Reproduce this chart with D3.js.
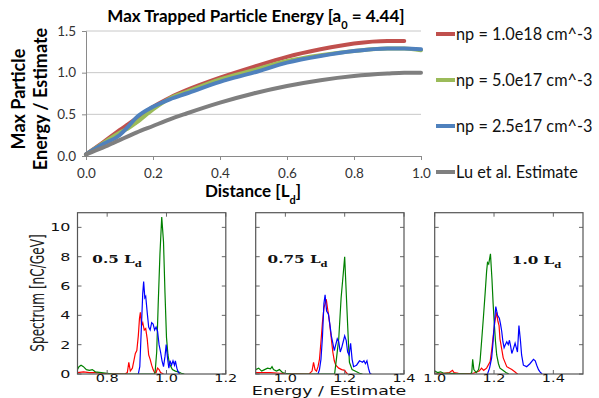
<!DOCTYPE html>
<html>
<head>
<meta charset="utf-8">
<script src="https://cdn.jsdelivr.net/npm/d3@7"></script>
<style>
  body { margin: 0; background: #fff; }
  svg { display: block; }
</style>
</head>
<body>
<div id="chart"></div>
<script>
"use strict";

// ---- top chart: max trapped particle energy vs distance ----
var distance   = [0, 0.05, 0.1, 0.125, 0.15, 0.2, 0.25, 0.3, 0.4, 0.5, 0.6, 0.7, 0.8, 0.9, 0.95, 1.0];
var np1e18     = [0.02, 0.16, 0.31, 0.38, 0.45, 0.59, 0.70, 0.79, 0.94, 1.07, 1.19, 1.28, 1.35, 1.38, 1.38, null];
var np5e17     = [0.02, 0.15, 0.28, 0.33, 0.40, 0.56, 0.69, 0.77, 0.92, 1.03, 1.14, 1.21, 1.26, 1.29, 1.29, 1.27];
var np25e17    = [0.02, 0.14, 0.25, 0.35, 0.46, 0.59, 0.68, 0.75, 0.89, 1.00, 1.12, 1.20, 1.26, 1.29, 1.29, 1.28];
var luEstimate = [0.02, 0.10, 0.19, 0.235, 0.28, 0.36, 0.44, 0.51, 0.64, 0.75, 0.84, 0.91, 0.96, 0.99, 1.00, 1.00];
var seriesNames = ["np = 1.0e18 cm^-3", "np = 5.0e17 cm^-3", "np = 2.5e17 cm^-3", "Lu et al. Estimate"];
var seriesColors = ["#c0504d", "#9bbb59", "#4f81bd", "#7f7f7f"];
var distTicks = [0, 0.2, 0.4, 0.6, 0.8, 1.0];
var energyTicks = [0, 0.5, 1.0, 1.5];

// ---- bottom panels: spectra [energy/estimate, nC/GeV] ----
var panelNames = ["0.5", "0.75", "1.0"];
var panelDomains = [[0.7, 1.2], [0.9, 1.4], [1.0, 1.5]];
var panelTicks = [[0.8, 1.0, 1.2], [1.0, 1.2, 1.4], [1.0, 1.2, 1.4]];
var spectrumTicks = [0, 2, 4, 6, 8, 10];

var p1Red = [[0.70,0.1],[0.72,0.15],[0.74,0.1],[0.76,0.1],[0.78,0.05],[0.8,0.02],[0.86,0],[0.868,0.1],[0.873,0.8],[0.878,0.2],[0.885,0.4],[0.89,0.9],[0.895,1.4],[0.9,1.6],[0.905,2.6],[0.909,3.8],[0.912,4.2],[0.916,3.3],[0.92,3.5],[0.925,3.0],[0.93,3.1],[0.935,2.4],[0.94,1.3],[0.945,1.0],[0.95,0.6],[0.955,0.3],[0.96,0.1],[0.965,0.1],[0.97,0.4],[0.975,0.3],[0.98,0.1],[0.99,0]];
var p1Green = [[0.70,0.3],[0.705,0.5],[0.712,0.6],[0.72,0.5],[0.73,0.3],[0.74,0.25],[0.75,0.3],[0.76,0.15],[0.78,0.1],[0.8,0.05],[0.82,0],[0.96,0],[0.962,0.2],[0.967,1.5],[0.972,4.7],[0.978,8.2],[0.984,10.7],[0.99,9.0],[0.995,5.5],[1.0,2.5],[1.005,1.3],[1.01,0.7],[1.02,0.3],[1.03,0.2],[1.04,0.15],[1.05,0.05],[1.06,0]];
var p1Blue = [[0.905,0],[0.91,0.5],[0.915,3.0],[0.92,5.5],[0.923,6.3],[0.927,5.2],[0.93,5.3],[0.935,4.2],[0.94,3.2],[0.945,3.0],[0.95,3.5],[0.955,3.4],[0.96,3.0],[0.965,3.2],[0.97,2.9],[0.975,2.0],[0.98,1.5],[0.985,0.9],[0.99,0.5],[0.995,1.2],[0.999,2.0],[1.004,1.0],[1.008,0.4],[1.012,0.9],[1.017,0.6],[1.022,0.9],[1.027,0.6],[1.03,0.9],[1.035,0.4],[1.04,0.1],[1.045,0]];

var p2Red = [[0.9,0.1],[0.95,0.1],[0.98,0.05],[1.0,0.02],[1.08,0],[1.09,0.2],[1.095,0.8],[1.1,0.3],[1.105,0.2],[1.11,0.5],[1.115,1.0],[1.12,2.2],[1.125,3.5],[1.13,4.5],[1.138,5.1],[1.142,4.5],[1.146,4.0],[1.15,3.3],[1.155,2.4],[1.16,1.5],[1.165,0.9],[1.17,0.6],[1.18,0.4],[1.19,0.3],[1.2,0.25],[1.205,0.1],[1.21,0]];
var p2Green = [[0.9,0.3],[0.91,0.4],[0.92,0.2],[0.93,0.3],[0.94,0.4],[0.95,0.35],[0.955,0.5],[0.96,0.3],[0.97,0.2],[0.98,0.3],[0.99,0.1],[1.0,0.05],[1.02,0],[1.166,0],[1.172,1.0],[1.18,2.4],[1.188,5.2],[1.195,6.8],[1.2,8.0],[1.207,4.7],[1.213,2.0],[1.216,0.8],[1.225,0.3],[1.24,0.15],[1.25,0.05],[1.26,0]];
var p2Blue = [[1.11,0],[1.115,0.3],[1.12,1.0],[1.125,2.5],[1.13,4.8],[1.134,5.4],[1.139,4.3],[1.145,4.1],[1.15,3.4],[1.155,2.6],[1.16,2.1],[1.165,1.6],[1.17,2.0],[1.175,2.4],[1.18,2.2],[1.185,1.5],[1.19,1.8],[1.195,2.2],[1.2,2.6],[1.205,2.3],[1.21,1.5],[1.215,1.3],[1.22,2.1],[1.225,1.0],[1.23,0.5],[1.24,0.6],[1.25,0.9],[1.26,0.8],[1.265,0.9],[1.27,0.7],[1.275,0.9],[1.28,0.4],[1.285,0.05],[1.29,0]];

var p3Red = [[1.0,0.05],[1.03,0.05],[1.05,0.1],[1.06,0.25],[1.065,0.1],[1.08,0.05],[1.1,0.02],[1.13,0.05],[1.15,0.2],[1.158,0.4],[1.165,0.25],[1.175,0.4],[1.187,0.85],[1.192,1.6],[1.198,2.7],[1.203,3.6],[1.209,4.2],[1.213,3.6],[1.217,3.3],[1.22,2.4],[1.226,1.7],[1.231,1.1],[1.243,0.5],[1.26,0.3],[1.27,0.15],[1.276,0.05],[1.28,0]];
var p3Green = [[1.0,0.2],[1.01,0.1],[1.02,0.15],[1.03,0.05],[1.05,0.05],[1.07,0.02],[1.12,0],[1.125,0.1],[1.128,1.0],[1.132,0.3],[1.14,0.1],[1.148,0.3],[1.153,0.9],[1.158,2.2],[1.164,3.8],[1.17,5.5],[1.175,7.0],[1.178,7.6],[1.182,7.5],[1.188,8.2],[1.193,6.5],[1.197,4.8],[1.201,3.4],[1.205,2.2],[1.209,1.3],[1.215,0.7],[1.22,0.4],[1.23,0.25],[1.24,0.1],[1.25,0]];
var p3Blue = [[1.178,0],[1.185,0.4],[1.192,1.1],[1.196,2.0],[1.2,3.1],[1.206,4.6],[1.212,4.0],[1.218,3.8],[1.222,3.4],[1.226,2.9],[1.23,2.2],[1.234,1.8],[1.238,2.0],[1.243,2.2],[1.248,2.0],[1.252,2.3],[1.256,1.9],[1.26,1.4],[1.265,1.7],[1.271,2.1],[1.275,1.8],[1.279,1.5],[1.284,3.3],[1.289,2.3],[1.293,1.3],[1.299,0.6],[1.31,0.5],[1.321,0.7],[1.333,1.0],[1.339,0.9],[1.344,0.6],[1.35,0.3],[1.355,0.15],[1.362,0]];

var panelSeries = [[p1Red, p1Green, p1Blue], [p2Red, p2Green, p2Blue], [p3Red, p3Green, p3Blue]];
var spectrumColors = ["#ff0000", "#008000", "#0000ff"];

var W = 599, H = 398;
var svg = d3.select("#chart").append("svg")
            .attr("width", W).attr("height", H);

/*
 * Top chart
 */
var frame = { left: 86, right: 421, top: 31, bottom: 156 };
var xTop = d3.scaleLinear().domain([0, 1]).range([frame.left, frame.right]);
var yTop = d3.scaleLinear().domain([0, 1.5]).range([frame.bottom, frame.top]);
var calibri = "Lato, 'Open Sans', sans-serif";

// gridlines
svg.append("g").selectAll("line")
   .data(energyTicks.filter(function(d) { return d > 0; }))
   .enter().append("line")
   .attr("x1", frame.left).attr("x2", frame.right)
   .attr("y1", function(d) { return yTop(d); })
   .attr("y2", function(d) { return yTop(d); })
   .attr("stroke", "#c8c8c8").attr("stroke-width", 1);

var xAxisTop = svg.append("g")
   .attr("transform", "translate(0," + frame.bottom + ")")
   .call(d3.axisBottom(xTop).tickValues(distTicks).tickFormat(d3.format(".1f")).tickSize(4).tickPadding(8));
var yAxisTop = svg.append("g")
   .attr("transform", "translate(" + frame.left + ",0)")
   .call(d3.axisLeft(yTop).tickValues(energyTicks).tickFormat(d3.format(".1f")).tickSize(4).tickPadding(6));
[xAxisTop, yAxisTop].forEach(function(a) {
  a.select(".domain").attr("stroke", "#8a8a8a");
  a.selectAll(".tick line").attr("stroke", "#8a8a8a");
  a.selectAll(".tick text").attr("fill", "#333").style("font-family", calibri).style("font-size", "13.5px");
});

var topSeries = [np1e18, np5e17, np25e17, luEstimate];
var topLine = d3.line()
   .defined(function(d) { return d[1] !== null; })
   .x(function(d) { return xTop(d[0]); })
   .y(function(d) { return yTop(d[1]); })
   .curve(d3.curveMonotoneX);

topSeries.forEach(function(vals, i) {
  var pts = distance.map(function(x, j) { return [x, vals[j]]; });
  svg.append("path")
     .attr("d", topLine(pts))
     .attr("fill", "none")
     .attr("stroke", seriesColors[i])
     .attr("stroke-width", 4)
     .attr("stroke-linecap", "round")
     .attr("stroke-linejoin", "round");
});

// title
var title = svg.append("text")
   .attr("x", 256).attr("y", 22)
   .attr("text-anchor", "middle")
   .style("font-family", calibri).style("font-size", "17px").style("font-weight", "bold");
title.append("tspan").text("Max Trapped Particle Energy [a");
title.append("tspan").attr("baseline-shift", "sub").style("font-size", "11px").text("0");
title.append("tspan").text(" = 4.44]");

// axis labels
var xl = svg.append("text")
   .attr("x", 253).attr("y", 197)
   .attr("text-anchor", "middle")
   .style("font-family", calibri).style("font-size", "17px").style("font-weight", "bold");
xl.append("tspan").text("Distance [L");
xl.append("tspan").attr("baseline-shift", "sub").style("font-size", "11px").text("d");
xl.append("tspan").text("]");

["Max Particle", "Energy / Estimate"].forEach(function(t, i) {
  svg.append("text")
     .attr("transform", "translate(" + (25 + i * 22) + "," + 99 + ") rotate(-90)")
     .attr("text-anchor", "middle")
     .style("font-family", calibri).style("font-size", "18px").style("font-weight", "bold")
     .text(t);
});

// legend
var legendY = [34, 80, 126, 172];
seriesNames.forEach(function(name, i) {
  svg.append("line")
     .attr("x1", 436).attr("x2", 455)
     .attr("y1", legendY[i]).attr("y2", legendY[i])
     .attr("stroke", seriesColors[i]).attr("stroke-width", 4);
  svg.append("text")
     .attr("x", 456).attr("y", legendY[i] + 5.5)
     .style("font-family", calibri).style("font-size", "16.3px").attr("fill", "#111")
     .text(name);
});

/*
 * Bottom panels (the original figure is stretched horizontally)
 */
var stretch = 1.45;
var panelLeft = [77.5, 255.7, 434.7];
var panelW = 148.3;
var pTop = 212.7, pBottom = 374;
var yBot = d3.scaleLinear().domain([0, 11]).range([pBottom, pTop]);
var mpl = "'DejaVu Sans', sans-serif";

function sText(x, y, anchor, size, family, weight) {
  return svg.append("text")
     .attr("transform", "translate(" + x + "," + y + ") scale(" + stretch + ",1)")
     .attr("text-anchor", anchor)
     .style("font-family", family).style("font-size", size + "px")
     .style("font-weight", weight || "normal")
     .attr("fill", "#111");
}

var labelPos = [[0.75, 7.6], [0.94, 7.6], [1.26, 7.5]];

panelDomains.forEach(function(dom, p) {
  var xs = d3.scaleLinear().domain(dom).range([panelLeft[p], panelLeft[p] + panelW]);
  var g = svg.append("g");

  g.append("clipPath").attr("id", "clip" + p)
   .append("rect").attr("x", panelLeft[p]).attr("y", pTop)
   .attr("width", panelW).attr("height", pBottom - pTop);

  var line = d3.line()
     .x(function(d) { return xs(d[0]); })
     .y(function(d) { return yBot(d[1]); });

  panelSeries[p].forEach(function(pts, i) {
    g.append("path")
     .attr("d", line(pts))
     .attr("clip-path", "url(#clip" + p + ")")
     .attr("fill", "none")
     .attr("stroke", spectrumColors[i])
     .attr("stroke-width", 1.2);
  });

  // ticks, inside, on all sides
  var tk = "#666";
  panelTicks[p].forEach(function(t) {
    g.append("line").attr("x1", xs(t)).attr("x2", xs(t))
     .attr("y1", pBottom).attr("y2", pBottom - 4).attr("stroke", tk);
    g.append("line").attr("x1", xs(t)).attr("x2", xs(t))
     .attr("y1", pTop).attr("y2", pTop + 4).attr("stroke", tk);
    sText(xs(t), 381.5, "middle", 10, mpl).text(d3.format(".1f")(t));
  });
  spectrumTicks.forEach(function(t) {
    g.append("line").attr("x1", panelLeft[p]).attr("x2", panelLeft[p] + 4)
     .attr("y1", yBot(t)).attr("y2", yBot(t)).attr("stroke", tk);
    g.append("line").attr("x1", panelLeft[p] + panelW).attr("x2", panelLeft[p] + panelW - 4)
     .attr("y1", yBot(t)).attr("y2", yBot(t)).attr("stroke", tk);
    if (p === 0) {
      sText(panelLeft[p] - 7, yBot(t) + 4, "end", 11, mpl).text(t);
    }
  });

  g.append("rect")
   .attr("x", panelLeft[p]).attr("y", pTop)
   .attr("width", panelW).attr("height", pBottom - pTop)
   .attr("fill", "none").attr("stroke", "#555").attr("stroke-width", 1.2);

  var lab = sText(xs(labelPos[p][0]), yBot(labelPos[p][1]), "start", 10.5, "'DejaVu Serif', serif", "bold");
  lab.append("tspan").text(panelNames[p] + " L");
  lab.append("tspan").attr("baseline-shift", "sub").style("font-size", "7px").text("d");
});

sText(329, 395, "middle", 12, mpl).text("Energy / Estimate");

svg.append("text")
   .attr("transform", "translate(44," + 293 + ") scale(" + stretch + ",1) rotate(-90)")
   .attr("text-anchor", "middle")
   .style("font-family", "'DejaVu Sans Condensed', 'DejaVu Sans', sans-serif").style("font-size", "13.5px")
   .attr("fill", "#222")
   .text("Spectrum [nC/GeV]");
</script>
</body>
</html>
